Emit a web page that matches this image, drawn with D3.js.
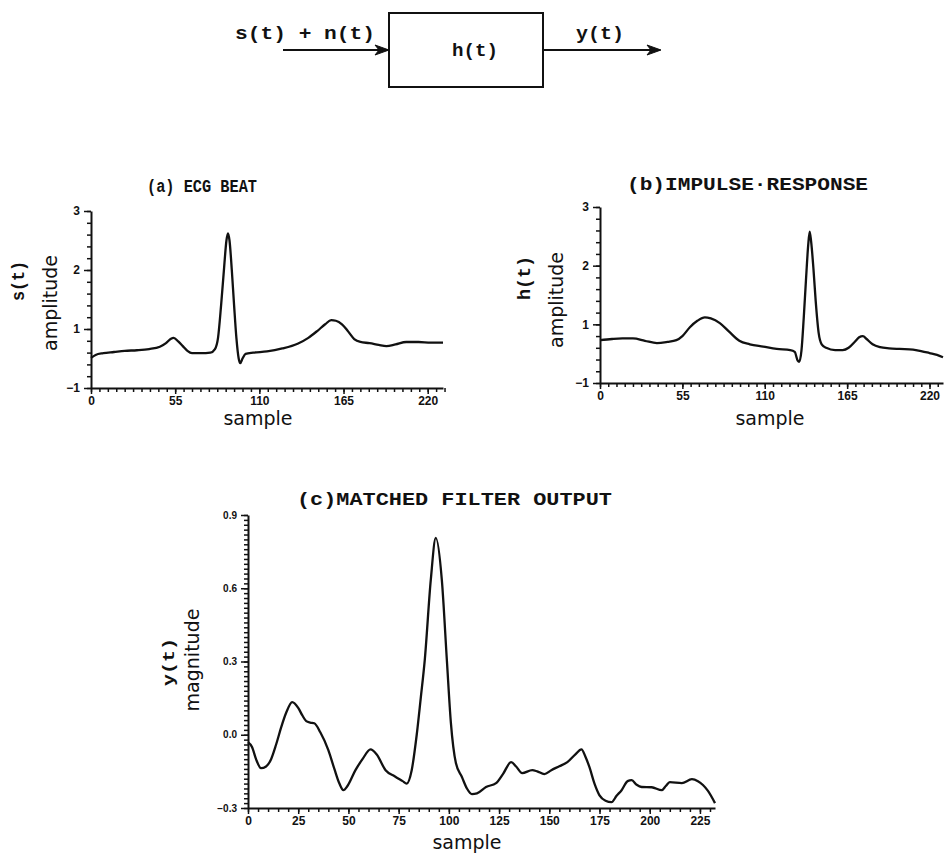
<!DOCTYPE html>
<html>
<head>
<meta charset="utf-8">
<script src="https://cdn.jsdelivr.net/npm/d3@7"></script>
<style>
  html, body { margin: 0; padding: 0; background: #fff; }
  svg { display: block; }
  .mono { font-family: "Liberation Mono", "DejaVu Sans Mono", monospace; font-weight: bold; fill: #111; }
  .lab { font-family: "DejaVu Sans", "Noto Sans", sans-serif; fill: #111; }
  .tick text { font-family: "Liberation Sans", "DejaVu Sans", sans-serif; font-weight: bold; fill: #111; }
</style>
</head>
<body>
<svg id="chart" width="952" height="864"></svg>
<script>
// ---------------- DATA ----------------
// (a) ECG beat s(t)
const sampleA = [0,3,8,15,22,30,38,45,49,52,54,57,60,63,66,72,78,81,83,85,87,88.5,89.5,90.5,92,93.5,95,96.5,97.5,99,101,106,115,125,135,142,148,153,157,160,164,168,172,176,182,188,193,199,206,214,222,230];
const ampA    = [0.51,0.56,0.59,0.61,0.63,0.64,0.66,0.70,0.76,0.83,0.85,0.79,0.71,0.63,0.59,0.59,0.60,0.66,0.85,1.40,2.05,2.50,2.62,2.50,2.00,1.40,0.85,0.50,0.42,0.50,0.58,0.60,0.62,0.67,0.75,0.85,0.97,1.08,1.15,1.14,1.08,0.96,0.83,0.78,0.76,0.73,0.71,0.74,0.78,0.78,0.77,0.77];
// (b) impulse response h(t)
const sampleB = [0,8,15,22,30,38,45,51,55,60,65,70,74,80,86,93,100,109,118,127,130,132,133,134.5,136,137.5,139,140,141,142.5,144,146,148,151,157,162,166,170,173,175.5,178,182,187,193,200,209,215,220,225,229];
const ampB    = [0.73,0.75,0.76,0.76,0.72,0.68,0.70,0.73,0.80,0.95,1.06,1.12,1.10,1.02,0.88,0.72,0.66,0.62,0.58,0.56,0.53,0.38,0.36,0.55,1.10,1.75,2.35,2.58,2.40,1.95,1.40,0.85,0.66,0.60,0.56,0.56,0.60,0.70,0.78,0.80,0.75,0.66,0.61,0.59,0.58,0.57,0.54,0.51,0.48,0.44];
// (c) matched filter output y(t)
const sampleC = [0,2,4,6.5,9,11.5,14,16.5,19,22,25,27,29,31,33,36,40,43,45.5,47.5,49.5,53.5,57,61,64,68.5,73,77,79,81.5,84,86,88,91,93.5,96.5,99,101,103.5,106.5,109,111.5,114,118.5,123.5,127,131,133.5,136.5,141.5,144,147.5,151,155,159,163,166,168,170,172.5,175,178,181,183.5,186,189,191,193.5,196,201,206,208,210,216,221,224,226.5,229,232.5];
const magC    = [-0.03,-0.05,-0.10,-0.137,-0.13,-0.10,-0.04,0.03,0.09,0.134,0.11,0.08,0.056,0.05,0.047,0.01,-0.063,-0.14,-0.20,-0.227,-0.21,-0.145,-0.10,-0.06,-0.08,-0.145,-0.17,-0.19,-0.20,-0.145,0.0,0.15,0.306,0.634,0.806,0.634,0.306,0.05,-0.116,-0.173,-0.22,-0.243,-0.24,-0.214,-0.198,-0.16,-0.112,-0.13,-0.157,-0.145,-0.15,-0.161,-0.145,-0.129,-0.112,-0.08,-0.06,-0.09,-0.133,-0.20,-0.248,-0.27,-0.276,-0.25,-0.227,-0.19,-0.186,-0.205,-0.214,-0.215,-0.227,-0.21,-0.194,-0.198,-0.182,-0.19,-0.206,-0.23,-0.28];

// tick values and labels
const xTicksAB = [0,55,110,165,220];
const yTicksAB = [3,2,1,0];
const yLabelsAB = ["3","2","1","\u22121"];
const xTicksC = [0,25,50,75,100,125,150,175,200,225];
const yTicksC = [0.9,0.6,0.3,0.0,-0.3];
const yLabelsC = ["0.9","0.6","0.3","0.0","\u22120.3"];

// titles / labels
const titles = ["(a) ECG BEAT", "(b)IMPULSE\u00B7RESPONSE", "(c)MATCHED FILTER OUTPUT"];

// ---------------- DRAW ----------------
const svg = d3.select("#chart");
svg.append("rect").attr("width",952).attr("height",864).attr("fill","#fff");

// Block diagram
const bd = svg.append("g");
bd.append("rect").attr("x",389).attr("y",13).attr("width",154).attr("height",74)
  .attr("fill","none").attr("stroke","#111").attr("stroke-width",2);
function arrow(x1, x2, y) {
  bd.append("line").attr("x1",x1).attr("x2",x2-2).attr("y1",y).attr("y2",y)
    .attr("stroke","#111").attr("stroke-width",2);
  bd.append("path").attr("d",`M${x2},${y} L${x2-14},${y-5} L${x2-10},${y} L${x2-14},${y+5} Z`)
    .attr("fill","#111").attr("stroke","#111").attr("stroke-width",1);
}
arrow(283, 389, 50);
arrow(543, 661, 50);
bd.append("text").attr("class","mono").attr("x",235).attr("y",39).attr("font-size",18)
  .attr("textLength",140).attr("lengthAdjust","spacingAndGlyphs").text("s(t) + n(t)");
bd.append("text").attr("class","mono").attr("x",452).attr("y",56).attr("font-size",18)
  .attr("textLength",46).attr("lengthAdjust","spacingAndGlyphs").text("h(t)");
bd.append("text").attr("class","mono").attr("x",576).attr("y",39).attr("font-size",18)
  .attr("textLength",48).attr("lengthAdjust","spacingAndGlyphs").text("y(t)");

function range(a, b, step) {
  const out = [];
  const n = Math.round((b - a) / step);
  for (let i = 0; i <= n; i++) out.push(+(a + i * step).toFixed(6));
  return out;
}

function panel(cfg) {
  const g = svg.append("g");
  const x = d3.scaleLinear().domain(cfg.xDomain).range(cfg.xRange);
  const y = d3.scaleLinear().domain(cfg.yDomain).range(cfg.yRange);
  const y0 = cfg.yRange[0];
  const x0 = cfg.xRange[0];

  // minor x ticks
  g.append("g").attr("transform",`translate(0,${y0})`)
    .call(d3.axisBottom(x).tickValues(cfg.xMinor).tickSize(4).tickSizeOuter(0).tickFormat(""))
    .call(s => s.select(".domain").attr("stroke-width",2));
  // major x ticks
  g.append("g").attr("transform",`translate(0,${y0})`)
    .call(d3.axisBottom(x).tickValues(cfg.xTicks).tickSize(6).tickSizeOuter(0).tickPadding(2))
    .call(s => s.select(".domain").remove())
    .call(s => s.selectAll(".tick text").attr("font-size",cfg.xTickFont));
  // minor y ticks
  g.append("g").attr("transform",`translate(${x0},0)`)
    .call(d3.axisLeft(y).tickValues(cfg.yMinor).tickSize(4).tickSizeOuter(0).tickFormat(""))
    .call(s => s.select(".domain").attr("stroke-width",2));
  // major y ticks
  g.append("g").attr("transform",`translate(${x0},0)`)
    .call(d3.axisLeft(y).tickValues(cfg.yTicks).tickSize(7).tickSizeOuter(0).tickPadding(4)
      .tickFormat((d,i) => cfg.yLabels[i]))
    .call(s => s.select(".domain").remove())
    .call(s => s.selectAll(".tick text").attr("font-size",cfg.yTickFont));
  g.selectAll(".tick line").attr("stroke","#111").attr("stroke-width",1.5);
  g.selectAll(".domain").attr("stroke","#111");

  // curve
  const pts = cfg.xs.map((d,i) => [d, cfg.ys[i]]);
  g.append("path").datum(pts)
    .attr("fill","none").attr("stroke","#111").attr("stroke-width",2.3)
    .attr("stroke-linejoin","round")
    .attr("d", d3.line().x(d => x(d[0])).y(d => y(d[1])).curve(d3.curveMonotoneX));

  // title
  g.append("text").attr("class","mono").attr("x",cfg.title.x).attr("y",cfg.title.y)
    .attr("font-size",cfg.title.size).attr("textLength",cfg.title.len)
    .attr("lengthAdjust","spacingAndGlyphs").text(cfg.title.text);
  // x label
  g.append("text").attr("class","lab").attr("x",cfg.xl.x).attr("y",cfg.xl.y)
    .attr("text-anchor","middle").attr("font-size",cfg.xl.size).text("sample");
  // y labels (rotated)
  g.append("text").attr("class","mono")
    .attr("transform",`translate(${cfg.yl1.x},${cfg.yl1.y}) rotate(-90)`)
    .attr("text-anchor","middle").attr("font-size",cfg.yl1.size)
    .attr("textLength",cfg.yl1.len).attr("lengthAdjust","spacingAndGlyphs").text(cfg.yl1.text);
  g.append("text").attr("class","lab")
    .attr("transform",`translate(${cfg.yl2.x},${cfg.yl2.y}) rotate(-90)`)
    .attr("text-anchor","middle").attr("font-size",cfg.yl2.size).text(cfg.yl2.text);
}

panel({
  xDomain:[0,230], xRange:[91,443], yDomain:[0,3], yRange:[388,211],
  xTicks:xTicksAB, xMinor:range(0,230,5.5), yTicks:yTicksAB, yLabels:yLabelsAB, yMinor:range(0,3,0.2),
  xs:sampleA, ys:ampA, xTickFont:12, yTickFont:12,
  title:{x:147, y:192, size:19, len:110, text:titles[0]},
  xl:{x:258, y:425, size:19},
  yl1:{x:24, y:281, size:18, len:40, text:"s(t)"},
  yl2:{x:57, y:303, size:19, text:"amplitude"}
});

panel({
  xDomain:[0,229], xRange:[600,943], yDomain:[0,3], yRange:[383,207],
  xTicks:xTicksAB, xMinor:range(0,228,5.5), yTicks:yTicksAB, yLabels:yLabelsAB, yMinor:range(0,3,0.2),
  xs:sampleB, ys:ampB, xTickFont:12, yTickFont:12,
  title:{x:627, y:190, size:19, len:241, text:titles[1]},
  xl:{x:770, y:425, size:19},
  yl1:{x:530, y:278, size:18, len:44, text:"h(t)"},
  yl2:{x:563, y:300, size:19, text:"amplitude"}
});

panel({
  xDomain:[0,232.5], xRange:[248,715], yDomain:[-0.3,0.9], yRange:[808,515],
  xTicks:xTicksC, xMinor:range(0,230,5), yTicks:yTicksC, yLabels:yLabelsC, yMinor:range(-0.3,0.9,0.02),
  xs:sampleC, ys:magC, xTickFont:12, yTickFont:10,
  title:{x:297, y:505, size:19, len:315, text:titles[2]},
  xl:{x:467, y:849, size:19},
  yl1:{x:174, y:662, size:17, len:48, text:"y(t)"},
  yl2:{x:199, y:660, size:19, text:"magnitude"}
});
</script>
</body>
</html>
